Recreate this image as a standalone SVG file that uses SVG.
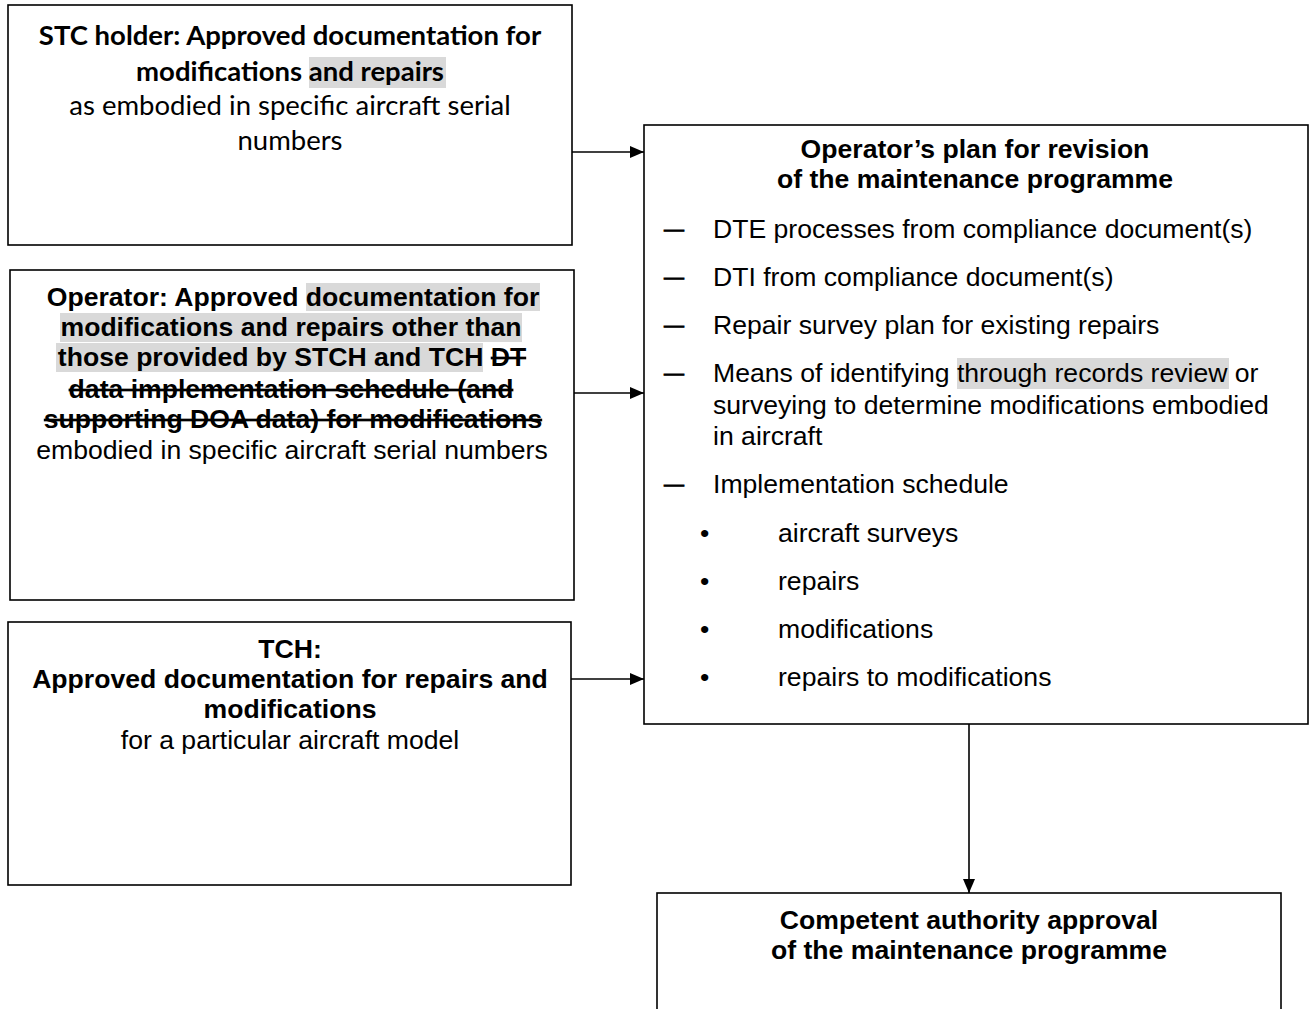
<svg xmlns="http://www.w3.org/2000/svg" width="1313" height="1009" viewBox="0 0 1313 1009">
<defs>
<marker id="ah" viewBox="0 0 14 12" refX="14" refY="6" markerWidth="14" markerHeight="12" markerUnits="userSpaceOnUse" orient="auto">
<path d="M0,0 L14,6 L0,12 z" fill="#000"/>
</marker>
<style>
.box{fill:#fff;stroke:#000;stroke-width:1.6}
.hl{fill:#d9d9d9}
.t{font-family:"Liberation Sans",Arial,sans-serif;font-size:26.6px;fill:#000}
.c{font-family:Lato,"Open Sans",sans-serif;font-size:27.5px;fill:#000}
.b{font-weight:bold}
.m{text-anchor:middle}
.s{text-decoration:line-through}
.d{font-size:20px;stroke:#000;stroke-width:0.9}
.conn{stroke:#000;stroke-width:1.6;fill:none;marker-end:url(#ah)}
</style>
</defs>
<rect width="1313" height="1009" fill="#fff"/>
<g id="stc-holder">
<rect class="box" x="8" y="5" width="564" height="240"/>
<rect class="hl" x="309" y="57" width="137" height="31"/>
<text class="c b m" x="290" y="45">STC holder: Approved documentation for</text>
<text class="c b m" x="290" y="81">modifications and repairs</text>
<text class="c m" x="290" y="115">as embodied in specific aircraft serial</text>
<text class="c m" x="290" y="150">numbers</text>
</g>
<g id="operator">
<rect class="box" x="10" y="270" width="564" height="330"/>
<rect class="hl" x="306" y="283" width="234" height="28"/>
<rect class="hl" x="60" y="313" width="462" height="29"/>
<rect class="hl" x="56" y="343" width="427" height="29"/>
<text class="t b m" x="293" y="306">Operator: Approved documentation for</text>
<text class="t b m" x="291" y="336">modifications and repairs other than</text>
<text class="t b m" x="292" y="366">those provided by STCH and TCH <tspan class="s">DT</tspan></text>
<text class="t b m s" x="291" y="398">data implementation schedule (and</text>
<text class="t b m s" x="293" y="428">supporting DOA data) for modifications</text>
<text class="t m" x="292" y="459">embodied in specific aircraft serial numbers</text>
</g>
<g id="tch">
<rect class="box" x="8" y="622" width="563" height="263"/>
<text class="t b m" x="290" y="658">TCH:</text>
<text class="t b m" x="290" y="688">Approved documentation for repairs and</text>
<text class="t b m" x="290" y="718">modifications</text>
<text class="t m" x="290" y="749">for a particular aircraft model</text>
</g>
<g id="operator-plan">
<rect class="box" x="644" y="125" width="664" height="599"/>
<rect class="hl" x="957" y="358" width="272" height="31"/>
<text class="t b m" x="975" y="158">Operator’s plan for revision</text>
<text class="t b m" x="975" y="188">of the maintenance programme</text>
<g class="t">
<text class="d" x="664" y="236">—</text>
<text x="713" y="238">DTE processes from compliance document(s)</text>
<text class="d" x="664" y="284">—</text>
<text x="713" y="286">DTI from compliance document(s)</text>
<text class="d" x="664" y="332">—</text>
<text x="713" y="334">Repair survey plan for existing repairs</text>
<text class="d" x="664" y="380">—</text>
<text x="713" y="382">Means of identifying through records review or</text>
<text x="713" y="414">surveying to determine modifications embodied</text>
<text x="713" y="445">in aircraft</text>
<text class="d" x="664" y="491">—</text>
<text x="713" y="493">Implementation schedule</text>
<text x="700" y="542">•</text>
<text x="778" y="542">aircraft surveys</text>
<text x="700" y="590">•</text>
<text x="778" y="590">repairs</text>
<text x="700" y="638">•</text>
<text x="778" y="638">modifications</text>
<text x="700" y="686">•</text>
<text x="778" y="686">repairs to modifications</text>
</g>
</g>
<g id="authority-approval">
<rect class="box" x="657" y="893" width="624" height="130"/>
<text class="t b m" x="969" y="929">Competent authority approval</text>
<text class="t b m" x="969" y="959">of the maintenance programme</text>
</g>
<g id="connectors">
<line class="conn" x1="572" y1="152" x2="644" y2="152"/>
<line class="conn" x1="574" y1="393" x2="644" y2="393"/>
<line class="conn" x1="571" y1="679" x2="644" y2="679"/>
<line class="conn" x1="969" y1="724" x2="969" y2="893"/>
</g>
</svg>
